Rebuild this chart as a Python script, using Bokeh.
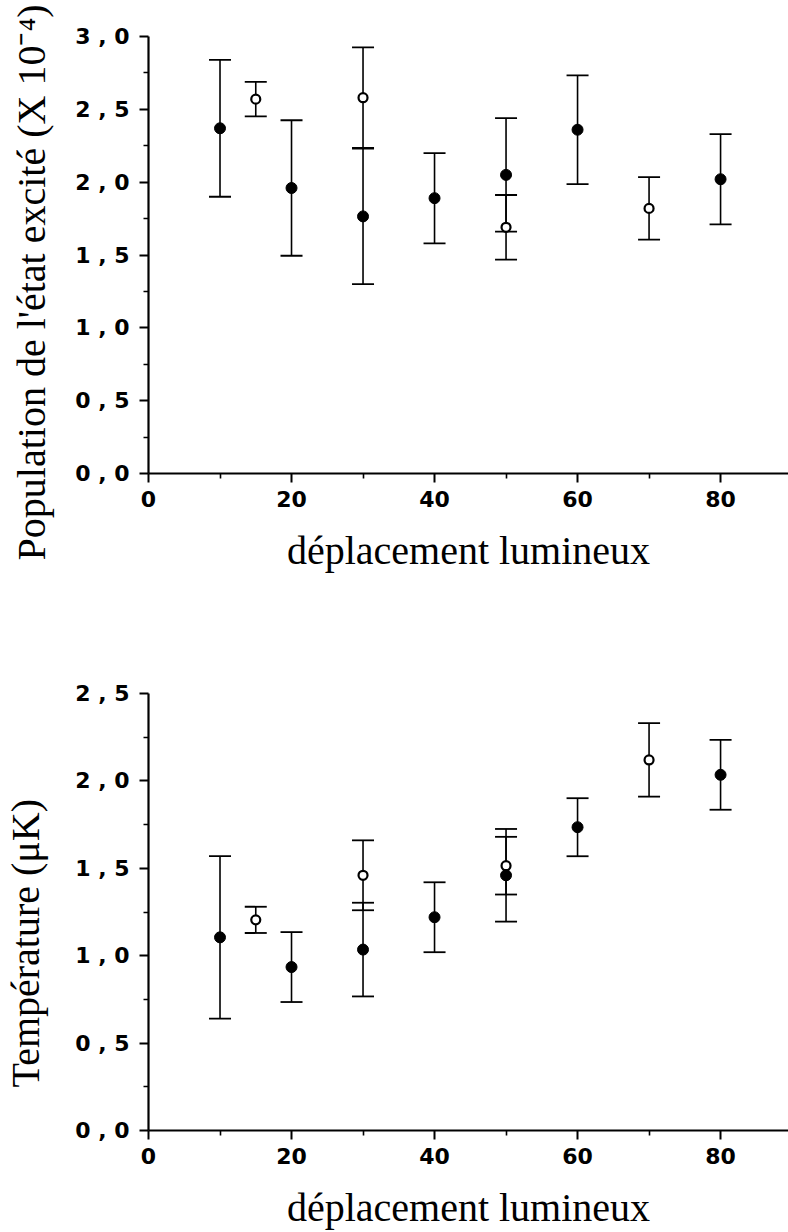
from bokeh.plotting import figure
from bokeh.models import ColumnDataSource, Whisker, TeeHead, FixedTicker, Label
from bokeh.layouts import column
from bokeh.embed import file_html
from bokeh.resources import INLINE

# ---------------- data ----------------
x_ticks = [0, 20, 40, 60, 80]
x_minor = [10, 30, 50, 70]
x_label = "déplacement lumineux"

# top panel: population of the excited state (x 1e-4)
pop_ticks = [0.0, 0.5, 1.0, 1.5, 2.0, 2.5, 3.0]
pop_minor = [0.25, 0.75, 1.25, 1.75, 2.25, 2.75]
pop_tick_labels = ["0 , 0", "0 , 5", "1 , 0", "1 , 5", "2 , 0", "2 , 5", "3 , 0"]
pop_label = "Population de l'état excité (X 10\u207b\u2074)"

pop_filled_x = [10, 20, 30, 40, 50, 60, 80]
pop_filled_y = [2.37, 1.96, 1.765, 1.89, 2.05, 2.36, 2.02]
pop_filled_err = [0.47, 0.465, 0.465, 0.31, 0.39, 0.373, 0.31]

pop_open_x = [15, 30, 50, 70]
pop_open_y = [2.57, 2.58, 1.69, 1.82]
pop_open_err = [0.118, 0.345, 0.222, 0.215]

# bottom panel: temperature (µK)
temp_ticks = [0.0, 0.5, 1.0, 1.5, 2.0, 2.5]
temp_minor = [0.25, 0.75, 1.25, 1.75, 2.25]
temp_tick_labels = ["0 , 0", "0 , 5", "1 , 0", "1 , 5", "2 , 0", "2 , 5"]
temp_label = "Température (μK)"

temp_filled_x = [10, 20, 30, 40, 50, 60, 80]
temp_filled_y = [1.105, 0.935, 1.035, 1.22, 1.46, 1.735, 2.035]
temp_filled_err = [0.465, 0.2, 0.268, 0.2, 0.265, 0.166, 0.2]

temp_open_x = [15, 30, 50, 70]
temp_open_y = [1.205, 1.46, 1.515, 2.12]
temp_open_err = [0.075, 0.2, 0.165, 0.21]

TICK_FONT = "DejaVu Sans"
LABEL_FONT = "Liberation Serif"


def add_errorbars(p, xs, ys, errs):
    src = ColumnDataSource(dict(
        x=xs,
        lo=[y - e for y, e in zip(ys, errs)],
        hi=[y + e for y, e in zip(ys, errs)],
    ))
    w = Whisker(base="x", lower="lo", upper="hi", source=src, dimension="height",
                line_color="black", line_width=1.6,
                upper_head=TeeHead(size=22, line_width=1.8, line_color="black"),
                lower_head=TeeHead(size=22, line_width=1.8, line_color="black"),
                level="underlay")
    p.add_layout(w)


def make_panel(height, ymax, yticks, yminor, ylabels, ylab, ylab_x, ylab_y,
               fx, fy, fe, ox, oy, oe, border_top, border_bottom, border_left):
    p = figure(width=788, height=height, x_range=(0, 89.5), y_range=(0, ymax),
               output_backend="svg", toolbar_location=None,
               min_border_left=border_left, min_border_right=0,
               min_border_top=border_top, min_border_bottom=border_bottom)
    p.outline_line_color = None
    p.xgrid.visible = False
    p.ygrid.visible = False

    p.xaxis.ticker = FixedTicker(ticks=x_ticks, minor_ticks=x_minor)
    p.yaxis.ticker = FixedTicker(ticks=yticks, minor_ticks=yminor)
    p.yaxis.major_label_overrides = {t: l for t, l in zip(yticks, ylabels)}

    for ax in (p.xaxis[0], p.yaxis[0]):
        ax.axis_line_width = 2.2
        ax.axis_line_color = "black"
        ax.major_tick_line_width = 2
        ax.major_tick_line_color = "black"
        ax.major_tick_out = 9
        ax.major_tick_in = 0
        ax.minor_tick_line_width = 1.6
        ax.minor_tick_line_color = "black"
        ax.minor_tick_out = 5
        ax.minor_tick_in = 0
        ax.major_label_text_font = TICK_FONT
        ax.major_label_text_font_style = "bold"
        ax.major_label_text_font_size = "22px"
        ax.major_label_text_color = "black"

    p.xaxis.major_label_standoff = 8
    p.yaxis.major_label_standoff = 10

    p.xaxis.axis_label = x_label
    p.xaxis.axis_label_text_font = LABEL_FONT
    p.xaxis.axis_label_text_font_style = "normal"
    p.xaxis.axis_label_text_font_size = "40px"
    p.xaxis.axis_label_text_color = "black"
    p.xaxis.axis_label_standoff = 18

    # y label placed in the left side panel so that it is not clipped to the frame
    lab = Label(x=ylab_x, y=ylab_y, text=ylab, angle=90, angle_units="deg",
                text_align="left", text_baseline="alphabetic",
                text_font=LABEL_FONT, text_font_style="normal",
                text_font_size="40px", text_color="black")
    p.add_layout(lab, "left")

    add_errorbars(p, fx, fy, fe)
    add_errorbars(p, ox, oy, oe)

    p.scatter(fx, fy, marker="circle", size=11, fill_color="black", line_color="black")
    p.scatter(ox, oy, marker="circle", size=9, fill_color="white", line_color="black",
              line_width=2.2)
    return p


p1 = make_panel(623, 3.0, pop_ticks, pop_minor, pop_tick_labels, pop_label, -16.4, -0.597,
                pop_filled_x, pop_filled_y, pop_filled_err,
                pop_open_x, pop_open_y, pop_open_err,
                border_top=36, border_bottom=150, border_left=147)
p2 = make_panel(609, 2.5, temp_ticks, temp_minor, temp_tick_labels, temp_label, -17.2, 0.246,
                temp_filled_x, temp_filled_y, temp_filled_err,
                temp_open_x, temp_open_y, temp_open_err,
                border_top=70, border_bottom=102, border_left=148)

layout = column(p1, p2, spacing=0)
open("out.html", "w").write(file_html(layout, INLINE))
